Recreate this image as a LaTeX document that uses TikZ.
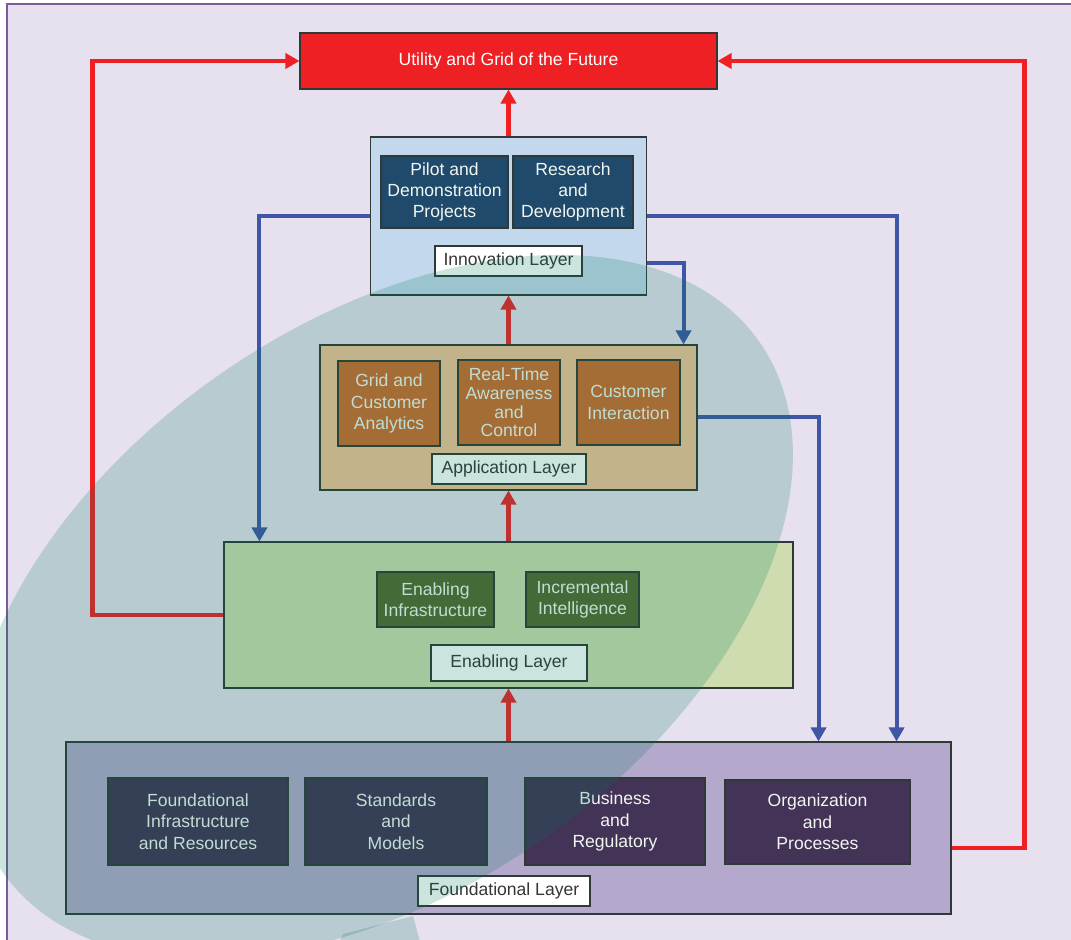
\documentclass[tikz,border=0pt]{standalone}
\usepackage{fontspec}
\setmainfont{Liberation Sans}
\usetikzlibrary{arrows.meta}
\definecolor{lavbg}{HTML}{E6E0EF}
\definecolor{framepurple}{HTML}{7B5C9B}
\definecolor{boxline}{HTML}{2F3A36}
\definecolor{gridred}{HTML}{EE2024}
\definecolor{linkblue}{HTML}{3F55A5}
\definecolor{innofill}{HTML}{C3D8EC}
\definecolor{innoitem}{HTML}{1F4A6B}
\definecolor{appfill}{HTML}{F4C296}
\definecolor{appitem}{HTML}{CD6B2D}
\definecolor{enabfill}{HTML}{CEDCB0}
\definecolor{enabitem}{HTML}{566730}
\definecolor{foundfill}{HTML}{B4A8CC}
\definecolor{founditem}{HTML}{433356}
\definecolor{itemtxt}{HTML}{F2F6F2}
\definecolor{tagtxt}{HTML}{363636}
\definecolor{lensgreen}{HTML}{00785A}
\begin{document}
\begin{tikzpicture}[x=0.2mm,y=-0.2mm,>={Triangle[length=2.8mm,width=3mm]},
  box/.style={draw=boxline,line width=0.6pt,inner sep=0pt,align=center,font=\fontsize{10}{12.2}\selectfont},
  item/.style={box,text=itemtxt},
  tag/.style={box,fill=white,text=tagtxt,minimum height=6mm},
  redline/.style={draw=gridred,line width=0.9mm,->},
  blueline/.style={draw=linkblue,line width=0.8mm,->},
  lens/.style={fill=lensgreen,fill opacity=0.2}]
\clip (0,0) rectangle (1071,940);
\draw[fill=lavbg,draw=framepurple,line width=0.5mm] (7,4) rectangle (1100,980);

\node[box,fill=gridred,text=white,minimum width=83.4mm,minimum height=11.2mm] (title) at (508.5,61) {Utility and Grid of the Future};

\node[box,fill=innofill,minimum width=55.2mm,minimum height=31.6mm] (inno) at (508.5,216) {};
\node[item,fill=innoitem,minimum width=25.4mm,minimum height=14.4mm] (pilot) at (444.5,192) {Pilot and\\Demonstration\\Projects};
\node[item,fill=innoitem,minimum width=24mm,minimum height=14.4mm] (rnd) at (573,192) {Research\\and\\Development};
\node[tag,minimum width=29.4mm] (innotag) at (508.5,261) {Innovation Layer};

\node[box,fill=appfill,minimum width=75.4mm,minimum height=29mm] (app) at (508.5,417.5) {};
\node[item,fill=appitem,minimum width=20.4mm,minimum height=17mm] (analytics) at (389,403.5) {Grid and\\Customer\\Analytics};
\node[item,fill=appitem,minimum width=20.4mm,minimum height=17mm,font=\fontsize{10}{10.6}\selectfont] (realtime) at (509,402.5) {Real-Time\\Awareness\\and\\Control};
\node[item,fill=appitem,minimum width=20.6mm,minimum height=17mm] (custint) at (628.5,402.5) {Customer\\Interaction};
\node[tag,minimum width=30.8mm] (apptag) at (509,469) {Application Layer};

\node[box,fill=enabfill,minimum width=113.8mm,minimum height=29.2mm] (enab) at (508.5,615) {};
\node[item,fill=enabitem,minimum width=23.4mm,minimum height=11mm] (infra) at (435.5,599.5) {Enabling\\Infrastructure};
\node[item,fill=enabitem,minimum width=22.6mm,minimum height=11mm] (intel) at (582.5,599.5) {Incremental\\Intelligence};
\node[tag,minimum width=31.2mm,minimum height=7.2mm] (enabtag) at (509,663) {Enabling Layer};

\node[box,fill=foundfill,minimum width=177mm,minimum height=34.4mm] (found) at (508.5,828) {};
\node[item,fill=founditem,minimum width=36mm,minimum height=17.4mm] (resources) at (198,821.5) {Foundational\\Infrastructure\\and Resources};
\node[item,fill=founditem,minimum width=36.4mm,minimum height=17.4mm] (standards) at (396,821.5) {Standards\\and\\Models};
\node[item,fill=founditem,minimum width=36mm,minimum height=17.4mm] (business) at (615,821.5) {Business\\and\\Regulatory};
\node[item,fill=founditem,minimum width=37mm,minimum height=16.8mm] (organization) at (817.5,822) {Organization\\and\\Processes};
\node[tag,minimum width=34.4mm] (foundtag) at (504,891) {Foundational Layer};

\draw[redline] (inno.north) -- (title.south);
\draw[redline] (app.north) -- (inno.south);
\draw[redline] (enab.north) -- (app.south);
\draw[redline] (found.north) -- (enab.south);
\draw[redline] (enab.west) -- ++(-131,0) |- (title.west);
\draw[redline] ([yshift=-4mm]found.east) -- ++(73,0) |- (title.east);

\draw[blueline] (inno.west) -| ([xshift=7.2mm]enab.north west);
\draw[blueline] (inno.east) -| ([xshift=-11mm]found.north east);
\draw[blueline] ([yshift=6.6mm]inno.south east) -| ([xshift=-2.8mm]app.north east);
\draw[blueline] (app.east) -| ([xshift=-26.6mm]found.north east);

\fill[lens,rotate around={35:(381,607)}] (381,607) ellipse [x radius=92.4mm,y radius=56.6mm];
\fill[lens] (338,945) -- (343,934) -- (413,916) -- (421,945) -- cycle;
\end{tikzpicture}
\end{document}
